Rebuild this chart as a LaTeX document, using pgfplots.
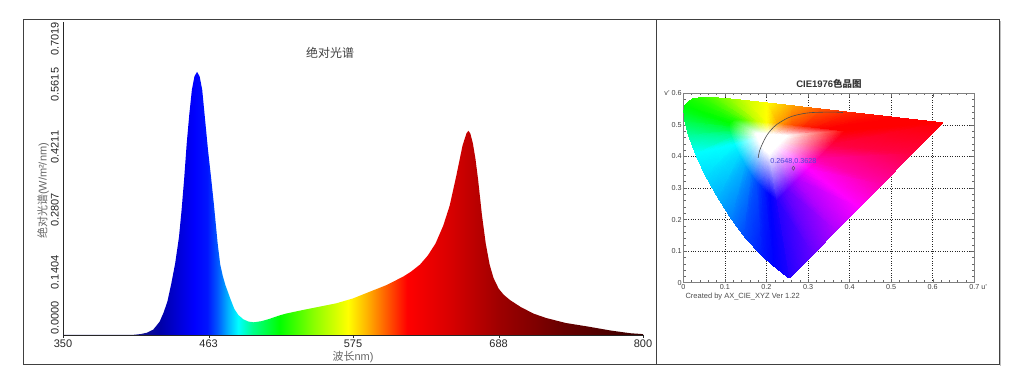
\documentclass[border=0pt]{standalone}
\usepackage{pgfplots}
\pgfplotsset{compat=1.18}
\usepackage{pgfplotstable}
\usepackage{fontspec}
\setmainfont{Liberation Sans}
\newfontfamily\cjk{Noto Sans CJK SC}

\pgfdeclarehorizontalshading{spectrum}{100bp}{
rgb(0bp)=(0.1,0.1,0.5);
rgb(25bp)=(0.1,0.1,0.5);
rgb(31.67bp)=(0.08,0.08,0.55);
rgb(33.33bp)=(0,0,0.65);
rgb(35bp)=(0,0,0.85);
rgb(36.33bp)=(0,0,1);
rgb(37.44bp)=(0,0.08,1);
rgb(38.33bp)=(0,0.35,1);
rgb(39.22bp)=(0,0.7,1);
rgb(40.11bp)=(0,1,1);
rgb(41.33bp)=(0,1,0.55);
rgb(43.67bp)=(0,1,0);
rgb(46.67bp)=(0.55,1,0);
rgb(49.56bp)=(1,1,0);
rgb(51.11bp)=(1,0.72,0);
rgb(52.44bp)=(1,0.45,0);
rgb(54.67bp)=(1,0,0);
rgb(58.33bp)=(0.85,0,0);
rgb(62.56bp)=(0.62,0,0);
rgb(68.33bp)=(0.4,0,0);
rgb(75bp)=(0.22,0,0);
rgb(100bp)=(0.22,0,0)}

\pgfplotstableread{
nm val
350 0
400 0
405 0.0005
410 0.002
415 0.005
420 0.012
425 0.03
428 0.05
431 0.075
434 0.115
437 0.16
440 0.22
442 0.28
444 0.35
446 0.43
448 0.495
450 0.55
452 0.58
454 0.59
456 0.58
458 0.55
460 0.49
462.5 0.415
465 0.35
467 0.295
468.5 0.25
470 0.205
472 0.158
474 0.132
476 0.112
480 0.08
483 0.058
486 0.045
490 0.035
494 0.03
498 0.0285
504 0.031
510 0.036
517 0.043
523 0.048
536 0.056
549 0.0635
562 0.071
575 0.082
588 0.097
601 0.112
614 0.131
620 0.142
627 0.158
633 0.178
639 0.205
645 0.245
650 0.29
655 0.355
660 0.425
663 0.452
664.5 0.458
666 0.452
668 0.43
670 0.395
672 0.35
675 0.27
678 0.205
681 0.158
684 0.128
688 0.104
692 0.09
697 0.078
705 0.063
715 0.048
725 0.038
740 0.027
758 0.0186
775 0.01
790 0.004
800 0.002
}\spec

\pgfplotstableread{
u v c
0.2 0.46 rgb=1,1,1
0.2 0.46 rgb=1,1,1
0.2 0.46 rgb=1,1,1
0.2 0.46 rgb=1,1,1
0.2 0.46 rgb=1,1,1
0.2 0.46 rgb=1,1,1
0.2 0.46 rgb=1,1,1
0.2 0.46 rgb=1,1,1
0.2 0.46 rgb=1,1,1
0.2 0.46 rgb=1,1,1
0.2 0.46 rgb=1,1,1
0.2 0.46 rgb=1,1,1
0.2 0.46 rgb=1,1,1
0.2 0.46 rgb=1,1,1
0.2 0.46 rgb=1,1,1
0.2 0.46 rgb=1,1,1
0.2 0.46 rgb=1,1,1
0.2 0.46 rgb=1,1,1
0.2 0.46 rgb=1,1,1
0.2 0.46 rgb=1,1,1
0.2 0.46 rgb=1,1,1
0.2 0.46 rgb=1,1,1
0.2 0.46 rgb=1,1,1
0.2 0.46 rgb=1,1,1
0.2 0.46 rgb=1,1,1
0.2 0.46 rgb=1,1,1
0.2 0.46 rgb=1,1,1
0.2 0.46 rgb=1,1,1
0.2 0.46 rgb=1,1,1
0.2 0.46 rgb=1,1,1
0.2 0.46 rgb=1,1,1
0.2 0.46 rgb=1,1,1
0.2 0.46 rgb=1,1,1
0.2068 0.4068 rgb=1,1,1
0.2063 0.4068 rgb=1,1,1
0.2042 0.4090 rgb=1,1,1
0.2019 0.4114 rgb=1,1,1
0.1985 0.4153 rgb=1,1,1
0.1933 0.4229 rgb=1,1,1
0.1898 0.4293 rgb=1,1,1
0.1859 0.4373 rgb=1,1,1
0.1823 0.4459 rgb=1,1,1
0.1794 0.4542 rgb=1,1,1
0.1774 0.4612 rgb=1,1,1
0.1764 0.4664 rgb=1,1,1
0.1762 0.4700 rgb=1,1,1
0.1766 0.4725 rgb=1,1,1
0.1788 0.4748 rgb=1,1,1
0.1820 0.4752 rgb=1,1,1
0.1855 0.4751 rgb=1,1,1
0.1895 0.4747 rgb=1,1,1
0.1944 0.4740 rgb=1,1,1
0.2003 0.4731 rgb=1,1,1
0.2075 0.4720 rgb=1,1,1
0.2158 0.4708 rgb=1,1,1
0.2244 0.4695 rgb=1,1,1
0.2323 0.4684 rgb=1,1,1
0.2384 0.4674 rgb=1,1,1
0.2460 0.4663 rgb=1,1,1
0.2508 0.4656 rgb=1,1,1
0.2420 0.4538 rgb=1,1,1
0.2332 0.4421 rgb=1,1,1
0.2266 0.4333 rgb=1,1,1
0.2200 0.4244 rgb=1,1,1
0.2134 0.4156 rgb=1,1,1
0.2068 0.4068 rgb=1,1,1
0.2256 0.2605 rgb=0.15,0,1
0.2235 0.2606 rgb=0.1,0,1
0.2156 0.2688 rgb=0.05,0,1
0.2072 0.2777 rgb=0,0,1
0.1945 0.2922 rgb=0,0.1,1
0.1748 0.3210 rgb=0,0.3,1
0.1616 0.3450 rgb=0,0.5,1
0.1473 0.3749 rgb=0,0.7,1
0.1334 0.4072 rgb=0,0.87,1
0.1227 0.4383 rgb=0,1,1
0.1154 0.4644 rgb=0,1,0.6
0.1116 0.4839 rgb=0,1,0.3
0.1106 0.4974 rgb=0,1,0.1
0.1121 0.5067 rgb=0,1,0
0.1204 0.5157 rgb=0.1,1,0
0.1325 0.5171 rgb=0.2,1,0
0.1456 0.5165 rgb=0.35,1,0
0.1607 0.5149 rgb=0.55,1,0
0.1789 0.5125 rgb=0.8,1,0
0.2012 0.5092 rgb=1,1,0
0.2280 0.5052 rgb=1,0.65,0
0.2592 0.5005 rgb=1,0.35,0
0.2916 0.4957 rgb=1,0.15,0
0.3211 0.4913 rgb=1,0.05,0
0.3441 0.4879 rgb=1,0,0
0.3724 0.4836 rgb=1,0,0
0.3905 0.4809 rgb=1,0,0
0.3575 0.4368 rgb=1,0,0.25
0.3246 0.3927 rgb=1,0,0.65
0.2998 0.3597 rgb=1,0,1
0.2751 0.3266 rgb=0.7,0,1
0.2503 0.2935 rgb=0.4,0,1
0.2256 0.2605 rgb=0.15,0,1
0.2568 0.0166 rgb=0.15,0,1
0.2522 0.0169 rgb=0.1,0,1
0.2347 0.0350 rgb=0.05,0,1
0.2161 0.0549 rgb=0,0,1
0.1877 0.0871 rgb=0,0.1,1
0.1441 0.1510 rgb=0,0.3,1
0.1147 0.2044 rgb=0,0.5,1
0.0828 0.2708 rgb=0,0.7,1
0.0521 0.3427 rgb=0,0.87,1
0.0282 0.4117 rgb=0,1,1
0.0119 0.4698 rgb=0,1,0.6
0.0035 0.5131 rgb=0,1,0.3
0.0014 0.5432 rgb=0,1,0.1
0.0046 0.5638 rgb=0,1,0
0.0231 0.5837 rgb=0.1,1,0
0.0501 0.5868 rgb=0.2,1,0
0.0792 0.5856 rgb=0.35,1,0
0.1127 0.5821 rgb=0.55,1,0
0.1531 0.5766 rgb=0.8,1,0
0.2026 0.5694 rgb=1,1,0
0.2623 0.5604 rgb=1,0.65,0
0.3315 0.5501 rgb=1,0.35,0
0.4035 0.5393 rgb=1,0.15,0
0.4692 0.5296 rgb=1,0.05,0
0.5203 0.5219 rgb=1,0,0
0.5830 0.5125 rgb=1,0,0
0.6234 0.5065 rgb=1,0,0
0.5501 0.4085 rgb=1,0,0.25
0.4768 0.3105 rgb=1,0,0.65
0.4218 0.2371 rgb=1,0,1
0.3668 0.1636 rgb=0.7,0,1
0.3118 0.0901 rgb=0.4,0,1
0.2568 0.0166 rgb=0.15,0,1
}\cie

\begin{document}
\begin{tikzpicture}
\useasboundingbox (0,0) rectangle (1024pt,377pt);
% frame
\draw[black!25, line width=1.2pt] (1000.6pt,11pt) -- (1000.6pt,356pt);
\draw[black!75, line width=1pt] (23pt,12pt) rectangle (999pt,357pt);
\draw[black!75, line width=1pt] (656.5pt,12pt) -- (656.5pt,357pt);

% ---------- spectrum ----------
\begin{axis}[
  name=spec,
  at={(63pt,42pt)}, anchor=south west, scale only axis,
  width=580pt, height=313pt,
  xmin=350, xmax=800, ymin=0, ymax=0.7019,
  axis lines*=left,
  axis line style={black!85, line width=0.8pt},
  xtick={350,463,575,688,800},
  xticklabels={350,463,575,688,800},
  ytick={0,0.1404,0.2807,0.4211,0.5615,0.7019},
  yticklabels={\rlap{0.0000},0.1404,0.2807,0.4211,0.5615,\llap{0.7019}},
  tick align=outside, major tick length=3pt,
  xtick style={black!85},
  ytick style={draw=none},
  yticklabel style={rotate=90, anchor=south, inner sep=1pt, font=\fontsize{11}{12}\selectfont, text=black!85},
  xticklabel style={font=\fontsize{11}{12}\selectfont, text=black!85, inner sep=1.5pt},
]
\addplot[draw=none, shading=spectrum] table[x=nm, y=val] {\spec} \closedcycle;
\end{axis}
\node[font=\cjk\fontsize{12}{14}\selectfont, text=black!75] at (330pt,324.3pt) {绝对光谱};
\node[rotate=90, font=\fontsize{11}{13}\selectfont, text=black!60] at (43pt,186pt) {{\cjk 绝对光谱}(W/m²/nm)};
\node[font=\fontsize{11}{13}\selectfont, text=black!60] at (353pt,20pt) {{\cjk 波长}nm)};

% ---------- CIE 1976 ----------
\begin{axis}[
  name=cie,
  at={(683.3pt,94.3pt)}, anchor=south west, scale only axis,
  width=291pt, height=189.4pt,
  xmin=0, xmax=0.7, ymin=0, ymax=0.6,
  xtick={0,0.1,0.2,0.3,0.4,0.5,0.6,0.7},
  ytick={0,0.1,0.2,0.3,0.4,0.5,0.6},
  xticklabels={0,0.1,0.2,0.3,0.4,0.5,0.6,0.7\rlap{ u'}},
  yticklabels={0,0.1,0.2,0.3,0.4,0.5,v' 0.6},
  minor x tick num=4, minor y tick num=4,
  tick align=inside,
  major tick length=4pt, minor tick length=2.2pt,
  grid=major,
  major grid style={dotted, black!85, line width=0.5pt},
  axis line style={black!50, line width=0.6pt},
  tick style={black!60, line width=0.4pt},
  ticklabel style={font=\fontsize{7.2}{8}\selectfont, text=black!75, inner sep=1.5pt},
]
\addplot[surf, shader=interp, mesh/color input=explicit, mesh/cols=33] table[x=u, y=v, meta=c] {\cie};
\addplot[smooth, black!70, line width=0.6pt] coordinates {
(0.1801,0.3953) (0.1833,0.4172) (0.1903,0.4400) (0.2004,0.4656) (0.2114,0.4847)
(0.2251,0.5016) (0.2505,0.5214) (0.2722,0.5311) (0.3051,0.5386) (0.3579,0.5405) (0.3840,0.5390)};
\addplot[only marks, mark=diamond, mark size=2pt, black!70, line width=0.4pt] coordinates {(0.2648,0.3628)};
\node[font=\fontsize{7.2}{8}\selectfont, text={rgb,1:red,0.3;green,0.28;blue,0.85}] at (axis cs:0.2648,0.3628) [yshift=7pt] {0.2648,0.3628};
\end{axis}
\node[font=\bfseries\fontsize{9.5}{11}\selectfont, text=black!80] at (829pt,292.7pt) {CIE1976{\cjk\bfseries 色品图}};
\node[anchor=west, font=\fontsize{7.5}{9}\selectfont, text=black!70] at (682pt,80pt) {Created by AX\_CIE\_XYZ Ver 1.22};
\end{tikzpicture}
\end{document}
